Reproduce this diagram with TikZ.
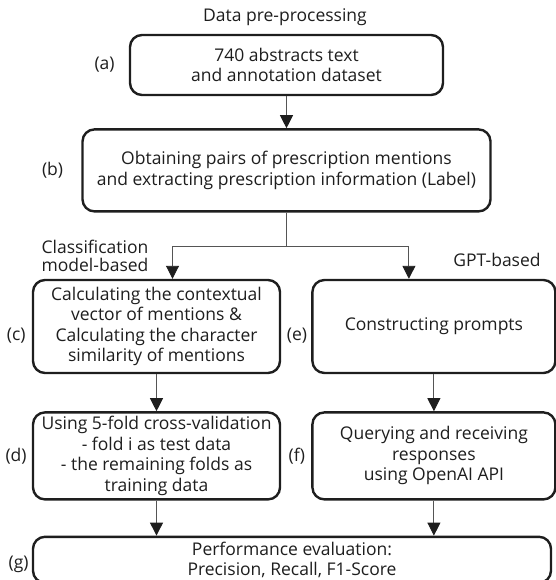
\documentclass[tikz,border=0pt]{standalone}
\usepackage{fontspec}
\setsansfont{Open Sans}
\usetikzlibrary{
  arrows.meta,
  positioning
}
\definecolor{ink}{HTML}{1E1E1E}
\definecolor{wiregrey}{HTML}{555555}
\newcommand{\flowfont}{\sffamily\fontsize{17.5pt}{20.5pt}\selectfont}
\tikzset{
  stepbox/.style={
    draw=ink,
    fill=white,
    line width=2.4pt,
    rounded corners=12pt,
    align=center,
    text=ink,
    font=\flowfont,
    inner sep=2pt
  },
  tag/.style={
    text=ink,
    font=\flowfont,
    inner sep=0pt
  },
  heading/.style={
    text=ink,
    font=\flowfont,
    align=center,
    inner sep=0pt
  },
  flow/.style={
    -{Triangle[length=13pt,width=13pt,color=ink]},
    line width=0.9pt,
    draw=wiregrey
  },
  link/.style={
    line width=0.9pt,
    draw=wiregrey
  }
}

\begin{document}
\begin{tikzpicture}
  \useasboundingbox (0pt,0pt) rectangle (555pt,-580pt);

  \node[heading] (title) at (285pt,-17pt) {Data pre-processing};
  \node[stepbox, minimum width=313pt, minimum height=60pt]
    (a) at (286.5pt,-65pt) {740 abstracts text\\and annotation dataset};
  \node[stepbox, minimum width=408pt, minimum height=82pt, below=32pt of a]
    (b) {Obtaining pairs of prescription mentions\\and extracting prescription information (Label)};

  \node[stepbox, minimum width=247pt, minimum height=93pt]
    (c) at (156.5pt,-326.5pt) {Calculating the contextual\\vector of mentions \&\\Calculating the character\\similarity of mentions};
  \node[stepbox, minimum width=243pt, minimum height=93pt, right=30pt of c]
    (e) {Constructing prompts};
  \node[stepbox, minimum width=247pt, minimum height=87pt, below=37pt of c]
    (d) {Using 5-fold cross-validation\\- fold i as test data\\- the remaining folds as\\training data};
  \node[stepbox, minimum width=243pt, minimum height=87pt, below=37pt of e]
    (f) {Querying and receiving\\responses\\using OpenAI API};
  \node[stepbox, minimum width=518pt, minimum height=46pt, anchor=north west]
    (g) at ([yshift=-35pt]d.south west) {Performance evaluation:\\Precision, Recall, F1-Score};

  % step tags
  \node[tag, left=14pt of a] (la) {(a)};
  \node[tag, left=18pt of b] (lb) {(b)};
  \node[tag, left=6pt of c, yshift=-9pt] (lc) {(c)};
  \node[tag, left=4pt of e, yshift=-9pt] (le) {(e)};
  \node[tag, left=5pt of d] (ld) {(d)};
  \node[tag, left=6pt of f] (lf) {(f)};
  \node[tag, left=3pt of g, yshift=-5pt] (lg) {(g)};

  \node[heading, font=\sffamily\fontsize{17.5pt}{18.5pt}\selectfont]
    (cls) at (95pt,-256pt) {Classification\\model-based};
  \node[heading] (gpt) at (497pt,-260pt) {GPT-based};

  % connectors
  \draw[flow] (a.south) -- (a.south |- b.north);
  \coordinate[below=34pt of b.south] (split);
  \draw[link] (b.south) -- (split);
  \draw[flow] (split) -| ([xshift=16pt]c.north);
  \draw[flow] (split) -| ([xshift=-25pt]e.north);
  \draw[flow] (c) -- (d);
  \draw[flow] (e) -- (f);
  \draw[flow] (d.south) -- (d.south |- g.north);
  \draw[flow] (f.south) -- (f.south |- g.north);
\end{tikzpicture}
\end{document}
